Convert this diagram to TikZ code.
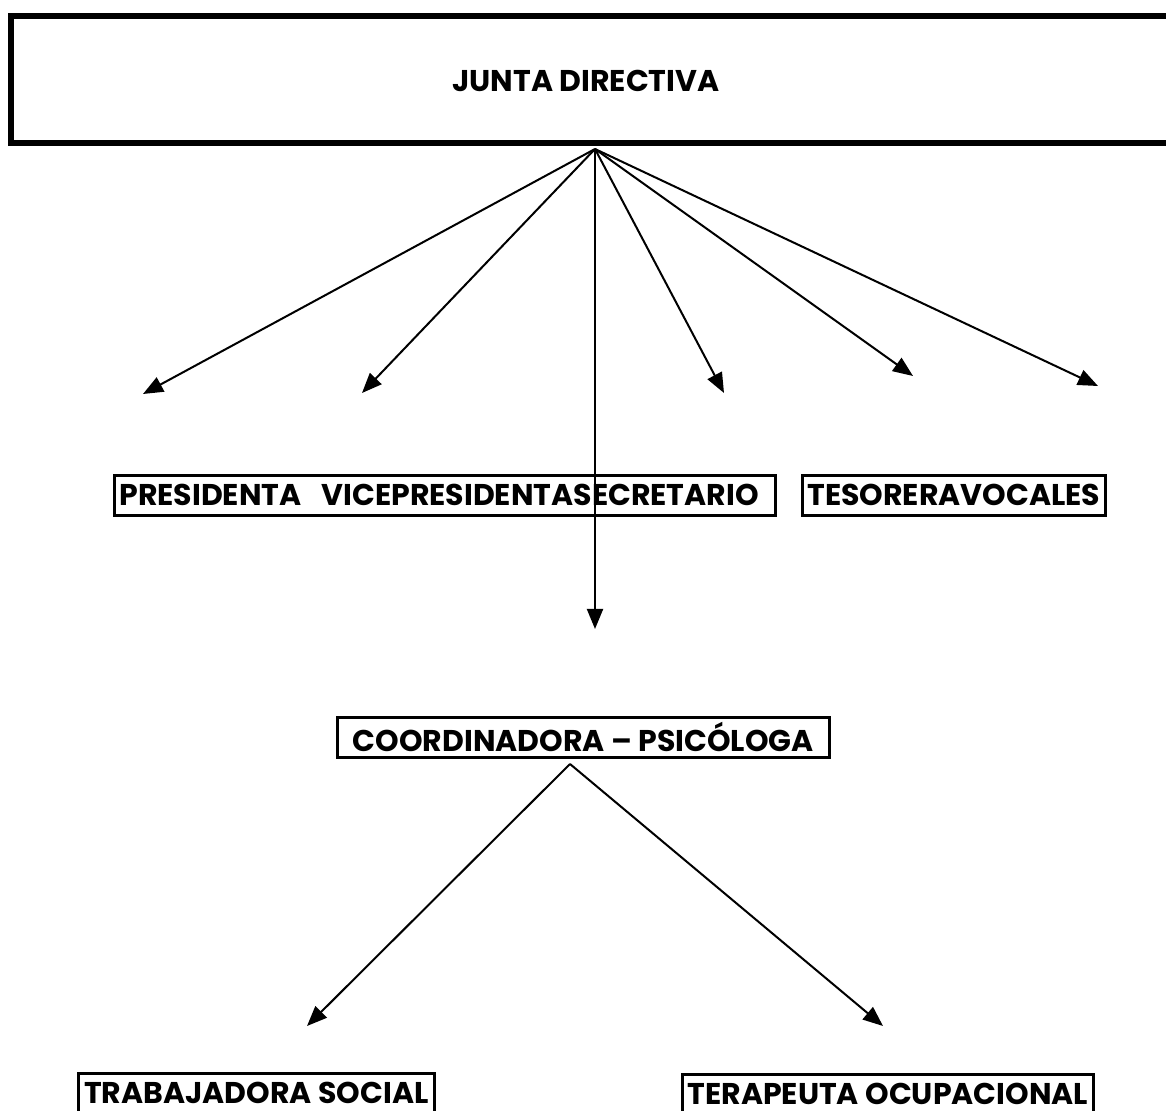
\documentclass[tikz,border=0pt]{standalone}
\usepackage{fontspec}
\setmainfont{Poppins}
\usetikzlibrary{arrows.meta}
\usetikzlibrary{positioning}
\tikzset{
board_text/.style={rectangle, font=\bfseries\fontsize{15}{18}\selectfont},
post/.style={rectangle, draw, line width=1.3pt, anchor=north west, inner xsep=2.5pt, inner ysep=0pt, minimum height=20pt, font=\bfseries\fontsize{15}{18}\selectfont},
link/.style={line width=1pt, -{Triangle[length=10pt,width=8pt]}}
}

\begin{document}
\begin{tikzpicture}[x=0.5pt, y=-0.5pt]
    \clip (0,0) rectangle (1166,1111);
    \draw[line width=3pt] (11,16) rectangle (1200,143);
    \node[board_text] (junta) at (586,81) {JUNTA DIRECTIVA};
    \coordinate (top_apex) at (595,149);
    \node[post, text width=325.5pt, align=left] (presidenta) at (113,474) {PRESIDENTA\ \ VICEPRESIDENTASECRETARIO};
    \node[post, minimum width=150pt] (tesorera) at (801,474) {TESORERAVOCALES};
    \node[post, minimum width=246pt] (coordinadora) at (336,716) {COORDINADORA – PSICÓLOGA};
    \coordinate (coord_apex) at (570,764);
    \node[post, minimum width=178pt] (trabajadora) at (77,1072) {TRABAJADORA SOCIAL};
    \node[post, minimum width=205.5pt] (terapeuta) at (681,1073) {TERAPEUTA OCUPACIONAL};
    \coordinate (tip_1) at (143,394);
    \coordinate (tip_2) at (362,393);
    \coordinate (tip_3) at (595,629);
    \coordinate (tip_4) at (724,393);
    \coordinate (tip_5) at (913,376);
    \coordinate (tip_6) at (1098,386);
    \coordinate (tip_7) at (307,1026);
    \coordinate (tip_8) at (883,1026);
    \draw[link] (top_apex) -- (tip_1);
    \draw[link] (top_apex) -- (tip_2);
    \draw[link] (top_apex) -- (tip_3);
    \draw[link] (top_apex) -- (tip_4);
    \draw[link] (top_apex) -- (tip_5);
    \draw[link] (top_apex) -- (tip_6);
    \draw[link] (coord_apex) -- (tip_7);
    \draw[link] (coord_apex) -- (tip_8);
\end{tikzpicture}
\end{document}
